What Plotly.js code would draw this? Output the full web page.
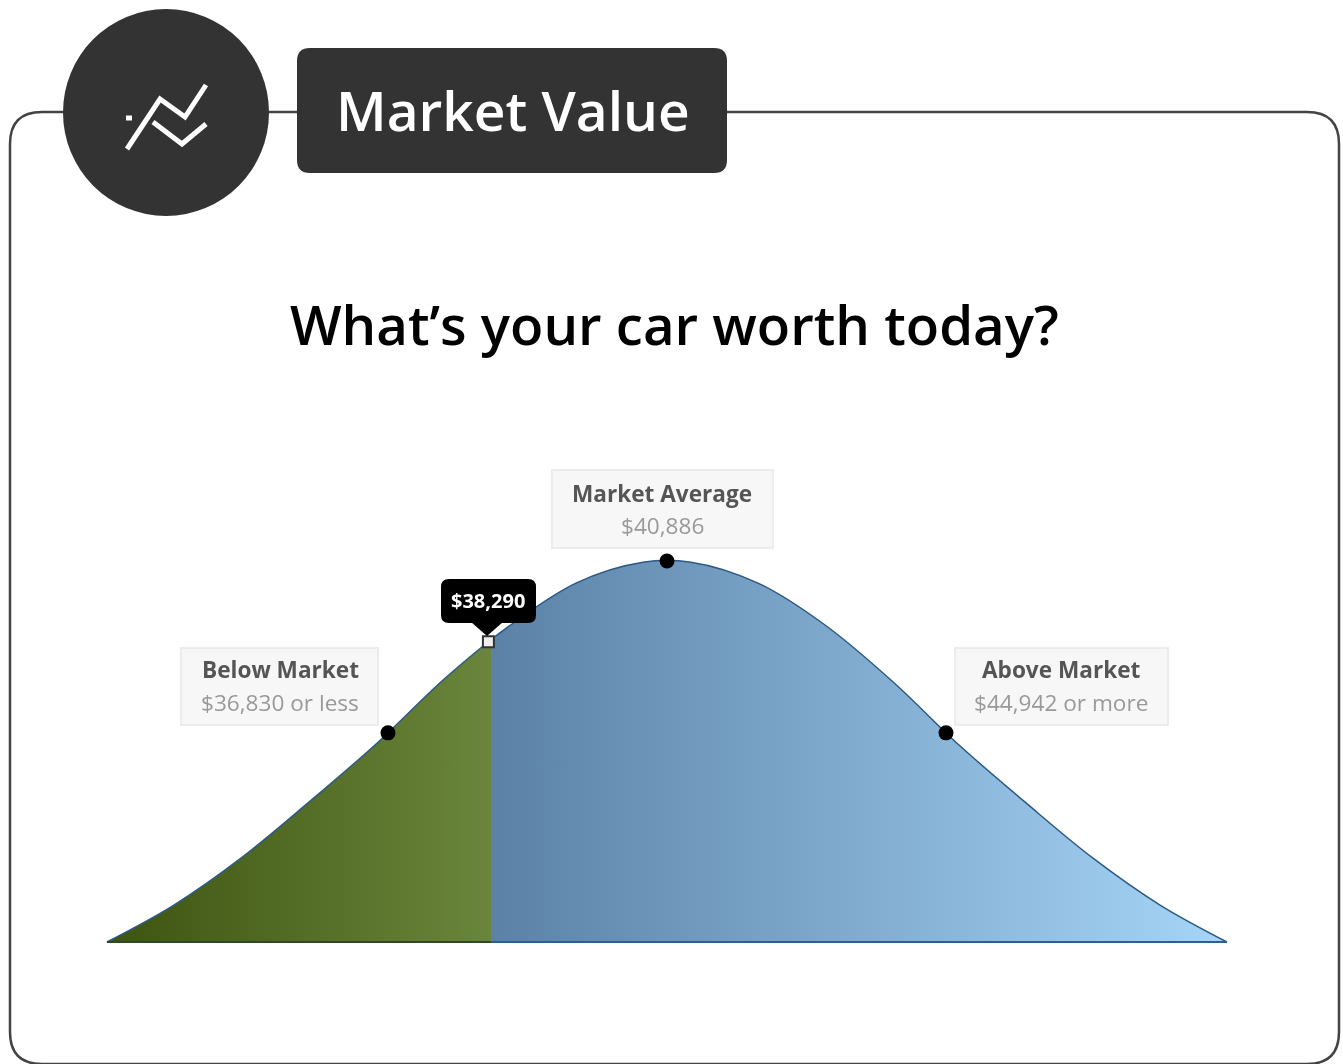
<!DOCTYPE html>
<html>
<head>
<meta charset="utf-8">
<script src="https://cdn.plot.ly/plotly-3.0.1.min.js"></script>
<style>html,body{margin:0;padding:0;background:#fff;overflow:hidden}#chart{width:1343px;height:1064px;filter:blur(0.6px)}</style>
</head>
<body>
<div id="chart"></div>
<script>
// Curve values: price in dollars, height as % of the peak
var belowPrices  = [32745,33719,34693,35667,36641,37615,38328];
var belowHeights = [0,9.7,22,36.5,51.7,68.5,79.4];
var abovePrices  = [38328,39563,40537,41235,42209,43183,44157,45131,46105,47079,48053,49027];
var aboveHeights = [79.4,94.2,99.7,99.7,94.2,83.2,68.5,51.7,36.5,22,9.7,0];
var markerPrices  = [36830,40886,44942];
var markerHeights = [54.9,100,54.9];
var yourPrice = [38290];
var yourHeight = [78.8];
var titleText = "What’s your car worth today?";
var headerText = "Market Value";
var tooltipText = "$38,290";
var calloutHeads = ["Below Market","Market Average","Above Market"];
var calloutValues = ["$36,830 or less","$40,886","$44,942 or more"];

var W = 1343, H = 1064;
var px = function(x){return x/W;};
var py = function(y){return 1-y/H;};
function rrect(x0,y0,x1,y1,r){
  return 'M '+px(x0+r)+' '+py(y0)+' L '+px(x1-r)+' '+py(y0)+' Q '+px(x1)+' '+py(y0)+' '+px(x1)+' '+py(y0+r)+
    ' L '+px(x1)+' '+py(y1-r)+' Q '+px(x1)+' '+py(y1)+' '+px(x1-r)+' '+py(y1)+
    ' L '+px(x0+r)+' '+py(y1)+' Q '+px(x0)+' '+py(y1)+' '+px(x0)+' '+py(y1-r)+
    ' L '+px(x0)+' '+py(y0+r)+' Q '+px(x0)+' '+py(y0)+' '+px(x0+r)+' '+py(y0)+' Z';
}
function poly(pts){
  return pts.map(function(p,i){return (i?'L ':'M ')+px(p[0])+' '+py(p[1]);}).join(' ');
}
function paperShape(path,fill,lineColor,lineWidth){
  return {type:'path',xref:'paper',yref:'paper',path:path,fillcolor:fill||'rgba(0,0,0,0)',
          line:{color:lineColor||'rgba(0,0,0,0)',width:lineWidth||0},layer:'above'};
}
function box(x0,y0,x1,y1){
  return {type:'rect',xref:'paper',yref:'paper',x0:px(x0),x1:px(x1),y0:py(y1),y1:py(y0),
          fillcolor:'#f7f7f7',line:{color:'#ececec',width:2},layer:'below'};
}

var edge = '#2c5a85';
var traces = [
  {x:belowPrices,y:belowHeights,type:'scatter',mode:'lines',fill:'tozeroy',
   line:{color:edge,width:1.5,shape:'spline',smoothing:1},
   fillgradient:{type:'horizontal',colorscale:[[0,'#3d5410'],[1,'#6a853c']]},hoverinfo:'skip'},
  {x:abovePrices,y:aboveHeights,type:'scatter',mode:'lines',fill:'tozeroy',
   line:{color:edge,width:1.5,shape:'spline',smoothing:1},
   fillgradient:{type:'horizontal',colorscale:[[0,'#5b82a6'],[1,'#a6d5f8']]},hoverinfo:'skip'},
  {x:[belowPrices[0],belowPrices[belowPrices.length-1]],y:[0,0],type:'scatter',mode:'lines',
   line:{color:'#2e4a20',width:2},hoverinfo:'skip'},
  {x:[abovePrices[0],abovePrices[abovePrices.length-1]],y:[0,0],type:'scatter',mode:'lines',
   line:{color:'#2d5f92',width:2},hoverinfo:'skip'},
  {x:markerPrices,y:markerHeights,type:'scatter',mode:'markers',
   marker:{color:'#000',size:15,symbol:'circle'},hoverinfo:'skip'},
  {x:yourPrice,y:yourHeight,type:'scatter',mode:'markers',
   marker:{color:'#eeeeee',size:11,symbol:'square',line:{color:'#333',width:2}},hoverinfo:'skip'}
];

var shapes = [
  paperShape(rrect(10,112,1339,1064,32),null,'#444',2.5),
  {type:'circle',xref:'paper',yref:'paper',x0:px(63),x1:px(269),y0:py(216),y1:py(9),fillcolor:'#333',line:{width:0},layer:'above'},
  paperShape(rrect(297,48,727,173,13),'#333'),
  paperShape(poly([[127,149],[160,99],[185,117],[206,85]]),null,'#fff',5),
  paperShape(poly([[153,122],[182,144],[206,124]]),null,'#fff',5),
  paperShape(poly([[126,118],[132,118]]),null,'#fff',5),
  box(181,648,378,725), box(552,470,773,548), box(955,648,1168,725),
  paperShape(rrect(441,579,536,623,8),'#000'),
  paperShape(poly([[471,622],[503,622],[487,636]])+' Z','#000')
];

function label(text,x,y,size,color,weight){
  return {text:text,xref:'paper',yref:'paper',x:px(x),y:py(y),xanchor:'center',yanchor:'middle',
          showarrow:false,font:{family:'"Open Sans",sans-serif',size:size,color:color,weight:weight}};
}
var centers = [[280,669,702],[662,493,525],[1061,669,702]];
var annotations = [
  label(headerText,513,109,55,'#fff',600),
  label(titleText,674,324,54.6,'#000',600),
  label(tooltipText,488,600,20,'#fff',700)
];
calloutHeads.forEach(function(t,i){annotations.push(label(t,centers[i][0],centers[i][1],22.6,'#555',700));});
calloutValues.forEach(function(t,i){annotations.push(label(t,centers[i][0],centers[i][2],22.6,'#999',400));});

var layout = {
  width:W,height:H,margin:{l:0,r:0,t:0,b:0},showlegend:false,
  paper_bgcolor:'#fff',plot_bgcolor:'rgba(0,0,0,0)',
  xaxis:{range:[31190,50713],visible:false,fixedrange:true},
  yaxis:{range:[-32.02,247.24],visible:false,fixedrange:true},
  shapes:shapes,annotations:annotations
};
Plotly.newPlot('chart',traces,layout,{displayModeBar:false,staticPlot:true});
</script>
</body>
</html>
